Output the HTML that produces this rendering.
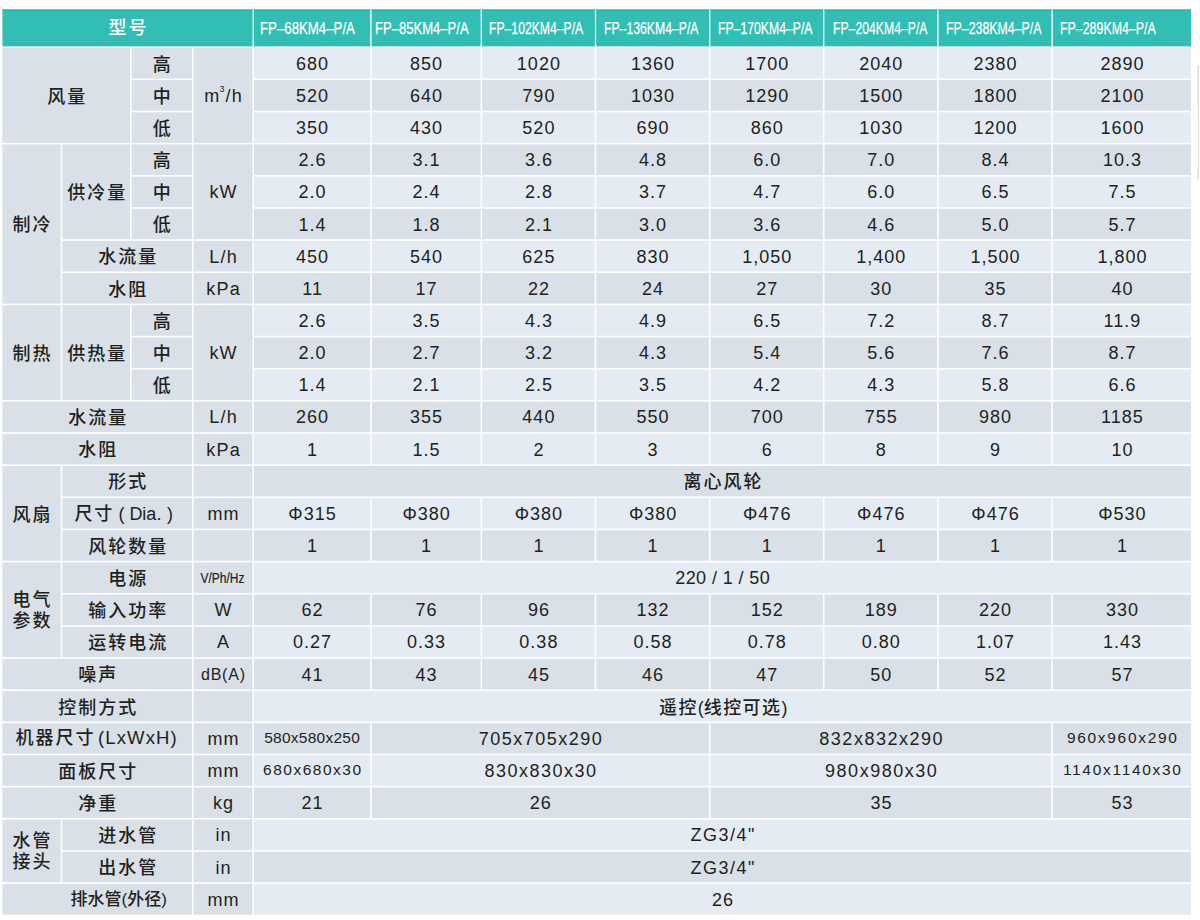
<!DOCTYPE html>
<html lang="zh-CN"><head><meta charset="utf-8"><title>FP-KM4-P/A</title>
<style>
*{margin:0;padding:0;box-sizing:border-box}
html,body{width:1200px;height:920px;background:#fff;overflow:hidden}
body{position:relative;font-family:"Liberation Sans","Noto Sans CJK SC",sans-serif;color:#231f20}
.wrap{position:absolute;left:0;top:0;width:1200px;height:920px;}
.bg{position:absolute;left:0;top:0}
.t{position:absolute;display:flex;align-items:center;justify-content:center;white-space:nowrap;text-align:center}
.t>span{position:relative}
i{font-style:normal;display:inline-block}
.cn{font-family:"Noto Sans CJK SC",sans-serif;font-size:18px;font-weight:500;letter-spacing:2px;line-height:1}
.cn>span{padding-left:2px;top:-0.75px}
.two{line-height:21.3px}
.hcn{font-family:"Noto Sans CJK SC",sans-serif;font-size:18px;font-weight:500;letter-spacing:2px;color:#fff;line-height:1}
.hcn>span{padding-left:2px;top:-1.8px;left:-0.4px}
.hm{position:absolute;color:#fff;font-size:16.8px;line-height:16.8px;height:16.8px;-webkit-text-stroke:0.25px #fff;transform-origin:0 0;white-space:nowrap}
.num{font-size:18px;letter-spacing:1px;line-height:1}
.num>span{padding-left:1px;top:0.5px}
.slash{letter-spacing:0.4px}.slash>span{padding-left:0.4px}
.zg{letter-spacing:1.5px}.zg>span{padding-left:1.5px}
.dim{letter-spacing:1.5px}
.dim>span{padding-left:1.5px}
.sm{font-size:15.5px}
.sm>span{top:-0.5px}
.s580{letter-spacing:0.25px}.s580>span{padding-left:0.25px}
.s680{letter-spacing:1.5px}.s680>span{padding-left:1.5px}
.s960{letter-spacing:1.7px}.s960>span{padding-left:1.7px}
.s1140{letter-spacing:1.7px}.s1140>span{padding-left:1.7px}
.un{font-size:18px;letter-spacing:1.2px;line-height:1}
.un>span{padding-left:1.2px;top:0.5px}
.vph{font-size:15px;line-height:1}
.vph i{transform:scaleX(0.80);-webkit-text-stroke:0.2px #231f20}
.db{font-size:16px;letter-spacing:0.8px}
.db>span{padding-left:0.8px}
.pg{justify-content:flex-start;font-size:17px;letter-spacing:0}
.pg>span{padding-left:0;left:68.2px}
sup{font-size:9px;vertical-align:top;position:relative;top:-2.3px;margin-left:-0.8px;letter-spacing:1px}
.lat{font-family:"Liberation Sans",sans-serif;letter-spacing:1.1px;margin-left:2.5px;font-size:18.5px}
.jq>span{left:-1.5px}
.lat2{font-family:"Liberation Sans","Noto Sans CJK SC",sans-serif;letter-spacing:0}
.dia{font-family:"Liberation Sans",sans-serif;letter-spacing:0}
.lp{font-family:"Liberation Sans",sans-serif;padding:0 5px 0 4px;letter-spacing:0}
.rp{font-family:"Liberation Sans",sans-serif;padding:0 0 0 5.5px;letter-spacing:0}
.diarow>span{left:-4.5px}
.cnp{font-family:"Liberation Sans",sans-serif;letter-spacing:0}
.yk{letter-spacing:1.4px}.yk>span{padding-left:1.4px;top:0.3px}
.phi{font-family:"Liberation Sans",sans-serif}
</style></head>
<body>
<div class="wrap">
<svg class="bg" width="1200" height="920" viewBox="0 0 1200 920"><rect x="2.40" y="9.50" width="250.15" height="36.90" fill="#31bfb5"/><rect x="2.40" y="9.50" width="250.15" height="1.20" fill="#22b3a8"/><rect x="253.85" y="9.50" width="116.40" height="36.90" fill="#31bfb5"/><rect x="253.85" y="9.50" width="116.40" height="1.20" fill="#22b3a8"/><rect x="371.55" y="9.50" width="109.10" height="36.90" fill="#31bfb5"/><rect x="371.55" y="9.50" width="109.10" height="1.20" fill="#22b3a8"/><rect x="481.95" y="9.50" width="112.90" height="36.90" fill="#31bfb5"/><rect x="481.95" y="9.50" width="112.90" height="1.20" fill="#22b3a8"/><rect x="596.15" y="9.50" width="112.90" height="36.90" fill="#31bfb5"/><rect x="596.15" y="9.50" width="112.90" height="1.20" fill="#22b3a8"/><rect x="710.35" y="9.50" width="112.70" height="36.90" fill="#31bfb5"/><rect x="710.35" y="9.50" width="112.70" height="1.20" fill="#22b3a8"/><rect x="824.35" y="9.50" width="112.90" height="36.90" fill="#31bfb5"/><rect x="824.35" y="9.50" width="112.90" height="1.20" fill="#22b3a8"/><rect x="938.55" y="9.50" width="112.90" height="36.90" fill="#31bfb5"/><rect x="938.55" y="9.50" width="112.90" height="1.20" fill="#22b3a8"/><rect x="1052.75" y="9.50" width="138.25" height="36.90" fill="#31bfb5"/><rect x="1052.75" y="9.50" width="138.25" height="1.20" fill="#22b3a8"/><rect x="2.40" y="48.00" width="127.60" height="94.85" fill="#d9e0e7"/><rect x="131.60" y="48.00" width="60.40" height="30.55" fill="#d9e0e7"/><rect x="131.60" y="80.15" width="60.40" height="30.55" fill="#d9e0e7"/><rect x="131.60" y="112.30" width="60.40" height="30.55" fill="#d9e0e7"/><rect x="193.60" y="48.00" width="58.80" height="94.85" fill="#d9e0e7"/><rect x="2.40" y="144.45" width="58.30" height="159.15" fill="#d9e0e7"/><rect x="62.30" y="144.45" width="67.70" height="94.85" fill="#d9e0e7"/><rect x="131.60" y="144.45" width="60.40" height="30.55" fill="#d9e0e7"/><rect x="131.60" y="176.60" width="60.40" height="30.55" fill="#d9e0e7"/><rect x="131.60" y="208.75" width="60.40" height="30.55" fill="#d9e0e7"/><rect x="193.60" y="144.45" width="58.80" height="94.85" fill="#d9e0e7"/><rect x="62.30" y="240.90" width="129.70" height="30.55" fill="#d9e0e7"/><rect x="193.60" y="240.90" width="58.80" height="30.55" fill="#d9e0e7"/><rect x="62.30" y="273.05" width="129.70" height="30.55" fill="#d9e0e7"/><rect x="193.60" y="273.05" width="58.80" height="30.55" fill="#d9e0e7"/><rect x="2.40" y="305.20" width="58.30" height="94.85" fill="#d9e0e7"/><rect x="62.30" y="305.20" width="67.70" height="94.85" fill="#d9e0e7"/><rect x="131.60" y="305.20" width="60.40" height="30.55" fill="#d9e0e7"/><rect x="131.60" y="337.35" width="60.40" height="30.55" fill="#d9e0e7"/><rect x="131.60" y="369.50" width="60.40" height="30.55" fill="#d9e0e7"/><rect x="193.60" y="305.20" width="58.80" height="94.85" fill="#d9e0e7"/><rect x="2.40" y="401.65" width="189.60" height="30.55" fill="#d9e0e7"/><rect x="193.60" y="401.65" width="58.80" height="30.55" fill="#d9e0e7"/><rect x="2.40" y="433.80" width="189.60" height="30.55" fill="#d9e0e7"/><rect x="193.60" y="433.80" width="58.80" height="30.55" fill="#d9e0e7"/><rect x="2.40" y="465.95" width="58.30" height="94.85" fill="#d9e0e7"/><rect x="62.30" y="465.95" width="129.70" height="30.55" fill="#d9e0e7"/><rect x="193.60" y="465.95" width="58.80" height="30.55" fill="#d9e0e7"/><rect x="62.30" y="498.10" width="129.70" height="30.55" fill="#d9e0e7"/><rect x="193.60" y="498.10" width="58.80" height="30.55" fill="#d9e0e7"/><rect x="62.30" y="530.25" width="129.70" height="30.55" fill="#d9e0e7"/><rect x="193.60" y="530.25" width="58.80" height="30.55" fill="#d9e0e7"/><rect x="2.40" y="562.40" width="58.30" height="94.85" fill="#d9e0e7"/><rect x="62.30" y="562.40" width="129.70" height="30.55" fill="#d9e0e7"/><rect x="193.60" y="562.40" width="58.80" height="30.55" fill="#d9e0e7"/><rect x="62.30" y="594.55" width="129.70" height="30.55" fill="#d9e0e7"/><rect x="193.60" y="594.55" width="58.80" height="30.55" fill="#d9e0e7"/><rect x="62.30" y="626.70" width="129.70" height="30.55" fill="#d9e0e7"/><rect x="193.60" y="626.70" width="58.80" height="30.55" fill="#d9e0e7"/><rect x="2.40" y="658.85" width="189.60" height="30.55" fill="#d9e0e7"/><rect x="193.60" y="658.85" width="58.80" height="30.55" fill="#d9e0e7"/><rect x="2.40" y="691.00" width="189.60" height="30.55" fill="#d9e0e7"/><rect x="193.60" y="691.00" width="58.80" height="30.55" fill="#d9e0e7"/><rect x="2.40" y="723.15" width="189.60" height="30.55" fill="#d9e0e7"/><rect x="193.60" y="723.15" width="58.80" height="30.55" fill="#d9e0e7"/><rect x="2.40" y="755.30" width="189.60" height="30.55" fill="#d9e0e7"/><rect x="193.60" y="755.30" width="58.80" height="30.55" fill="#d9e0e7"/><rect x="2.40" y="787.45" width="189.60" height="30.55" fill="#d9e0e7"/><rect x="193.60" y="787.45" width="58.80" height="30.55" fill="#d9e0e7"/><rect x="2.40" y="819.60" width="58.30" height="62.70" fill="#d9e0e7"/><rect x="62.30" y="819.60" width="129.70" height="30.55" fill="#d9e0e7"/><rect x="193.60" y="819.60" width="58.80" height="30.55" fill="#d9e0e7"/><rect x="62.30" y="851.75" width="129.70" height="30.55" fill="#d9e0e7"/><rect x="193.60" y="851.75" width="58.80" height="30.55" fill="#d9e0e7"/><rect x="2.40" y="883.90" width="189.60" height="30.70" fill="#d9e0e7"/><rect x="193.60" y="883.90" width="58.80" height="30.70" fill="#d9e0e7"/><rect x="254.00" y="48.00" width="116.10" height="30.55" fill="#e5ebf2"/><rect x="371.70" y="48.00" width="108.80" height="30.55" fill="#e5ebf2"/><rect x="482.10" y="48.00" width="112.60" height="30.55" fill="#e5ebf2"/><rect x="596.30" y="48.00" width="112.60" height="30.55" fill="#e5ebf2"/><rect x="710.50" y="48.00" width="112.40" height="30.55" fill="#e5ebf2"/><rect x="824.50" y="48.00" width="112.60" height="30.55" fill="#e5ebf2"/><rect x="938.70" y="48.00" width="112.60" height="30.55" fill="#e5ebf2"/><rect x="1052.90" y="48.00" width="138.10" height="30.55" fill="#e5ebf2"/><rect x="254.00" y="80.15" width="116.10" height="30.55" fill="#d9e0e7"/><rect x="371.70" y="80.15" width="108.80" height="30.55" fill="#d9e0e7"/><rect x="482.10" y="80.15" width="112.60" height="30.55" fill="#d9e0e7"/><rect x="596.30" y="80.15" width="112.60" height="30.55" fill="#d9e0e7"/><rect x="710.50" y="80.15" width="112.40" height="30.55" fill="#d9e0e7"/><rect x="824.50" y="80.15" width="112.60" height="30.55" fill="#d9e0e7"/><rect x="938.70" y="80.15" width="112.60" height="30.55" fill="#d9e0e7"/><rect x="1052.90" y="80.15" width="138.10" height="30.55" fill="#d9e0e7"/><rect x="254.00" y="112.30" width="116.10" height="30.55" fill="#e5ebf2"/><rect x="371.70" y="112.30" width="108.80" height="30.55" fill="#e5ebf2"/><rect x="482.10" y="112.30" width="112.60" height="30.55" fill="#e5ebf2"/><rect x="596.30" y="112.30" width="112.60" height="30.55" fill="#e5ebf2"/><rect x="710.50" y="112.30" width="112.40" height="30.55" fill="#e5ebf2"/><rect x="824.50" y="112.30" width="112.60" height="30.55" fill="#e5ebf2"/><rect x="938.70" y="112.30" width="112.60" height="30.55" fill="#e5ebf2"/><rect x="1052.90" y="112.30" width="138.10" height="30.55" fill="#e5ebf2"/><rect x="254.00" y="144.45" width="116.10" height="30.55" fill="#d9e0e7"/><rect x="371.70" y="144.45" width="108.80" height="30.55" fill="#d9e0e7"/><rect x="482.10" y="144.45" width="112.60" height="30.55" fill="#d9e0e7"/><rect x="596.30" y="144.45" width="112.60" height="30.55" fill="#d9e0e7"/><rect x="710.50" y="144.45" width="112.40" height="30.55" fill="#d9e0e7"/><rect x="824.50" y="144.45" width="112.60" height="30.55" fill="#d9e0e7"/><rect x="938.70" y="144.45" width="112.60" height="30.55" fill="#d9e0e7"/><rect x="1052.90" y="144.45" width="138.10" height="30.55" fill="#d9e0e7"/><rect x="254.00" y="176.60" width="116.10" height="30.55" fill="#e5ebf2"/><rect x="371.70" y="176.60" width="108.80" height="30.55" fill="#e5ebf2"/><rect x="482.10" y="176.60" width="112.60" height="30.55" fill="#e5ebf2"/><rect x="596.30" y="176.60" width="112.60" height="30.55" fill="#e5ebf2"/><rect x="710.50" y="176.60" width="112.40" height="30.55" fill="#e5ebf2"/><rect x="824.50" y="176.60" width="112.60" height="30.55" fill="#e5ebf2"/><rect x="938.70" y="176.60" width="112.60" height="30.55" fill="#e5ebf2"/><rect x="1052.90" y="176.60" width="138.10" height="30.55" fill="#e5ebf2"/><rect x="254.00" y="208.75" width="116.10" height="30.55" fill="#d9e0e7"/><rect x="371.70" y="208.75" width="108.80" height="30.55" fill="#d9e0e7"/><rect x="482.10" y="208.75" width="112.60" height="30.55" fill="#d9e0e7"/><rect x="596.30" y="208.75" width="112.60" height="30.55" fill="#d9e0e7"/><rect x="710.50" y="208.75" width="112.40" height="30.55" fill="#d9e0e7"/><rect x="824.50" y="208.75" width="112.60" height="30.55" fill="#d9e0e7"/><rect x="938.70" y="208.75" width="112.60" height="30.55" fill="#d9e0e7"/><rect x="1052.90" y="208.75" width="138.10" height="30.55" fill="#d9e0e7"/><rect x="254.00" y="240.90" width="116.10" height="30.55" fill="#e5ebf2"/><rect x="371.70" y="240.90" width="108.80" height="30.55" fill="#e5ebf2"/><rect x="482.10" y="240.90" width="112.60" height="30.55" fill="#e5ebf2"/><rect x="596.30" y="240.90" width="112.60" height="30.55" fill="#e5ebf2"/><rect x="710.50" y="240.90" width="112.40" height="30.55" fill="#e5ebf2"/><rect x="824.50" y="240.90" width="112.60" height="30.55" fill="#e5ebf2"/><rect x="938.70" y="240.90" width="112.60" height="30.55" fill="#e5ebf2"/><rect x="1052.90" y="240.90" width="138.10" height="30.55" fill="#e5ebf2"/><rect x="254.00" y="273.05" width="116.10" height="30.55" fill="#d9e0e7"/><rect x="371.70" y="273.05" width="108.80" height="30.55" fill="#d9e0e7"/><rect x="482.10" y="273.05" width="112.60" height="30.55" fill="#d9e0e7"/><rect x="596.30" y="273.05" width="112.60" height="30.55" fill="#d9e0e7"/><rect x="710.50" y="273.05" width="112.40" height="30.55" fill="#d9e0e7"/><rect x="824.50" y="273.05" width="112.60" height="30.55" fill="#d9e0e7"/><rect x="938.70" y="273.05" width="112.60" height="30.55" fill="#d9e0e7"/><rect x="1052.90" y="273.05" width="138.10" height="30.55" fill="#d9e0e7"/><rect x="254.00" y="305.20" width="116.10" height="30.55" fill="#e5ebf2"/><rect x="371.70" y="305.20" width="108.80" height="30.55" fill="#e5ebf2"/><rect x="482.10" y="305.20" width="112.60" height="30.55" fill="#e5ebf2"/><rect x="596.30" y="305.20" width="112.60" height="30.55" fill="#e5ebf2"/><rect x="710.50" y="305.20" width="112.40" height="30.55" fill="#e5ebf2"/><rect x="824.50" y="305.20" width="112.60" height="30.55" fill="#e5ebf2"/><rect x="938.70" y="305.20" width="112.60" height="30.55" fill="#e5ebf2"/><rect x="1052.90" y="305.20" width="138.10" height="30.55" fill="#e5ebf2"/><rect x="254.00" y="337.35" width="116.10" height="30.55" fill="#d9e0e7"/><rect x="371.70" y="337.35" width="108.80" height="30.55" fill="#d9e0e7"/><rect x="482.10" y="337.35" width="112.60" height="30.55" fill="#d9e0e7"/><rect x="596.30" y="337.35" width="112.60" height="30.55" fill="#d9e0e7"/><rect x="710.50" y="337.35" width="112.40" height="30.55" fill="#d9e0e7"/><rect x="824.50" y="337.35" width="112.60" height="30.55" fill="#d9e0e7"/><rect x="938.70" y="337.35" width="112.60" height="30.55" fill="#d9e0e7"/><rect x="1052.90" y="337.35" width="138.10" height="30.55" fill="#d9e0e7"/><rect x="254.00" y="369.50" width="116.10" height="30.55" fill="#e5ebf2"/><rect x="371.70" y="369.50" width="108.80" height="30.55" fill="#e5ebf2"/><rect x="482.10" y="369.50" width="112.60" height="30.55" fill="#e5ebf2"/><rect x="596.30" y="369.50" width="112.60" height="30.55" fill="#e5ebf2"/><rect x="710.50" y="369.50" width="112.40" height="30.55" fill="#e5ebf2"/><rect x="824.50" y="369.50" width="112.60" height="30.55" fill="#e5ebf2"/><rect x="938.70" y="369.50" width="112.60" height="30.55" fill="#e5ebf2"/><rect x="1052.90" y="369.50" width="138.10" height="30.55" fill="#e5ebf2"/><rect x="254.00" y="401.65" width="116.10" height="30.55" fill="#d9e0e7"/><rect x="371.70" y="401.65" width="108.80" height="30.55" fill="#d9e0e7"/><rect x="482.10" y="401.65" width="112.60" height="30.55" fill="#d9e0e7"/><rect x="596.30" y="401.65" width="112.60" height="30.55" fill="#d9e0e7"/><rect x="710.50" y="401.65" width="112.40" height="30.55" fill="#d9e0e7"/><rect x="824.50" y="401.65" width="112.60" height="30.55" fill="#d9e0e7"/><rect x="938.70" y="401.65" width="112.60" height="30.55" fill="#d9e0e7"/><rect x="1052.90" y="401.65" width="138.10" height="30.55" fill="#d9e0e7"/><rect x="254.00" y="433.80" width="116.10" height="30.55" fill="#e5ebf2"/><rect x="371.70" y="433.80" width="108.80" height="30.55" fill="#e5ebf2"/><rect x="482.10" y="433.80" width="112.60" height="30.55" fill="#e5ebf2"/><rect x="596.30" y="433.80" width="112.60" height="30.55" fill="#e5ebf2"/><rect x="710.50" y="433.80" width="112.40" height="30.55" fill="#e5ebf2"/><rect x="824.50" y="433.80" width="112.60" height="30.55" fill="#e5ebf2"/><rect x="938.70" y="433.80" width="112.60" height="30.55" fill="#e5ebf2"/><rect x="1052.90" y="433.80" width="138.10" height="30.55" fill="#e5ebf2"/><rect x="254.00" y="498.10" width="116.10" height="30.55" fill="#e5ebf2"/><rect x="371.70" y="498.10" width="108.80" height="30.55" fill="#e5ebf2"/><rect x="482.10" y="498.10" width="112.60" height="30.55" fill="#e5ebf2"/><rect x="596.30" y="498.10" width="112.60" height="30.55" fill="#e5ebf2"/><rect x="710.50" y="498.10" width="112.40" height="30.55" fill="#e5ebf2"/><rect x="824.50" y="498.10" width="112.60" height="30.55" fill="#e5ebf2"/><rect x="938.70" y="498.10" width="112.60" height="30.55" fill="#e5ebf2"/><rect x="1052.90" y="498.10" width="138.10" height="30.55" fill="#e5ebf2"/><rect x="254.00" y="530.25" width="116.10" height="30.55" fill="#d9e0e7"/><rect x="371.70" y="530.25" width="108.80" height="30.55" fill="#d9e0e7"/><rect x="482.10" y="530.25" width="112.60" height="30.55" fill="#d9e0e7"/><rect x="596.30" y="530.25" width="112.60" height="30.55" fill="#d9e0e7"/><rect x="710.50" y="530.25" width="112.40" height="30.55" fill="#d9e0e7"/><rect x="824.50" y="530.25" width="112.60" height="30.55" fill="#d9e0e7"/><rect x="938.70" y="530.25" width="112.60" height="30.55" fill="#d9e0e7"/><rect x="1052.90" y="530.25" width="138.10" height="30.55" fill="#d9e0e7"/><rect x="254.00" y="594.55" width="116.10" height="30.55" fill="#d9e0e7"/><rect x="371.70" y="594.55" width="108.80" height="30.55" fill="#d9e0e7"/><rect x="482.10" y="594.55" width="112.60" height="30.55" fill="#d9e0e7"/><rect x="596.30" y="594.55" width="112.60" height="30.55" fill="#d9e0e7"/><rect x="710.50" y="594.55" width="112.40" height="30.55" fill="#d9e0e7"/><rect x="824.50" y="594.55" width="112.60" height="30.55" fill="#d9e0e7"/><rect x="938.70" y="594.55" width="112.60" height="30.55" fill="#d9e0e7"/><rect x="1052.90" y="594.55" width="138.10" height="30.55" fill="#d9e0e7"/><rect x="254.00" y="626.70" width="116.10" height="30.55" fill="#e5ebf2"/><rect x="371.70" y="626.70" width="108.80" height="30.55" fill="#e5ebf2"/><rect x="482.10" y="626.70" width="112.60" height="30.55" fill="#e5ebf2"/><rect x="596.30" y="626.70" width="112.60" height="30.55" fill="#e5ebf2"/><rect x="710.50" y="626.70" width="112.40" height="30.55" fill="#e5ebf2"/><rect x="824.50" y="626.70" width="112.60" height="30.55" fill="#e5ebf2"/><rect x="938.70" y="626.70" width="112.60" height="30.55" fill="#e5ebf2"/><rect x="1052.90" y="626.70" width="138.10" height="30.55" fill="#e5ebf2"/><rect x="254.00" y="658.85" width="116.10" height="30.55" fill="#d9e0e7"/><rect x="371.70" y="658.85" width="108.80" height="30.55" fill="#d9e0e7"/><rect x="482.10" y="658.85" width="112.60" height="30.55" fill="#d9e0e7"/><rect x="596.30" y="658.85" width="112.60" height="30.55" fill="#d9e0e7"/><rect x="710.50" y="658.85" width="112.40" height="30.55" fill="#d9e0e7"/><rect x="824.50" y="658.85" width="112.60" height="30.55" fill="#d9e0e7"/><rect x="938.70" y="658.85" width="112.60" height="30.55" fill="#d9e0e7"/><rect x="1052.90" y="658.85" width="138.10" height="30.55" fill="#d9e0e7"/><rect x="254.00" y="465.95" width="937.00" height="30.55" fill="#d9e0e7"/><rect x="254.00" y="562.40" width="937.00" height="30.55" fill="#e5ebf2"/><rect x="254.00" y="691.00" width="937.00" height="30.55" fill="#e5ebf2"/><rect x="254.00" y="723.15" width="116.10" height="30.55" fill="#d9e0e7"/><rect x="371.70" y="723.15" width="337.20" height="30.55" fill="#d9e0e7"/><rect x="710.50" y="723.15" width="340.80" height="30.55" fill="#d9e0e7"/><rect x="1052.90" y="723.15" width="138.10" height="30.55" fill="#d9e0e7"/><rect x="254.00" y="755.30" width="116.10" height="30.55" fill="#e5ebf2"/><rect x="371.70" y="755.30" width="337.20" height="30.55" fill="#e5ebf2"/><rect x="710.50" y="755.30" width="340.80" height="30.55" fill="#e5ebf2"/><rect x="1052.90" y="755.30" width="138.10" height="30.55" fill="#e5ebf2"/><rect x="254.00" y="787.45" width="116.10" height="30.55" fill="#d9e0e7"/><rect x="371.70" y="787.45" width="337.20" height="30.55" fill="#d9e0e7"/><rect x="710.50" y="787.45" width="340.80" height="30.55" fill="#d9e0e7"/><rect x="1052.90" y="787.45" width="138.10" height="30.55" fill="#d9e0e7"/><rect x="254.00" y="819.60" width="937.00" height="30.55" fill="#e5ebf2"/><rect x="254.00" y="851.75" width="937.00" height="30.55" fill="#d9e0e7"/><rect x="254.00" y="883.90" width="937.00" height="30.70" fill="#e5ebf2"/><rect x="1198" y="66" width="1" height="113.6" fill="#dedede"/><rect x="1197" y="66" width="2" height="1" fill="#dadada"/><rect x="1197" y="67" width="1" height="42" fill="#eeeeee"/><rect x="1197" y="117" width="1.5" height="1" fill="#e0e0e0"/><rect x="1197" y="168" width="1.5" height="1" fill="#e0e0e0"/><rect x="1197" y="169" width="1" height="10.6" fill="#eeeeee"/></svg>
<div class="t hcn" style="left:2.40px;top:9.50px;width:250.80px;height:36.90px"><span>型号</span></div>
<div class="t cn" style="left:2.40px;top:48.00px;width:127.60px;height:94.85px"><span>风量</span></div>
<div class="t cn" style="left:131.60px;top:48.00px;width:60.40px;height:30.55px"><span>高</span></div>
<div class="t cn" style="left:131.60px;top:80.15px;width:60.40px;height:30.55px"><span>中</span></div>
<div class="t cn" style="left:131.60px;top:112.30px;width:60.40px;height:30.55px"><span>低</span></div>
<div class="t un" style="left:193.60px;top:48.00px;width:58.80px;height:94.85px"><span>m<sup>3</sup>/h</span></div>
<div class="t cn" style="left:2.40px;top:144.45px;width:58.30px;height:159.15px"><span>制冷</span></div>
<div class="t cn" style="left:62.30px;top:144.45px;width:67.70px;height:94.85px"><span>供冷量</span></div>
<div class="t cn" style="left:131.60px;top:144.45px;width:60.40px;height:30.55px"><span>高</span></div>
<div class="t cn" style="left:131.60px;top:176.60px;width:60.40px;height:30.55px"><span>中</span></div>
<div class="t cn" style="left:131.60px;top:208.75px;width:60.40px;height:30.55px"><span>低</span></div>
<div class="t un" style="left:193.60px;top:144.45px;width:58.80px;height:94.85px"><span>kW</span></div>
<div class="t cn" style="left:62.30px;top:240.90px;width:129.70px;height:30.55px"><span>水流量</span></div>
<div class="t un" style="left:193.60px;top:240.90px;width:58.80px;height:30.55px"><span>L/h</span></div>
<div class="t cn" style="left:62.30px;top:273.05px;width:129.70px;height:30.55px"><span>水阻</span></div>
<div class="t un" style="left:193.60px;top:273.05px;width:58.80px;height:30.55px"><span>kPa</span></div>
<div class="t cn" style="left:2.40px;top:305.20px;width:58.30px;height:94.85px"><span>制热</span></div>
<div class="t cn" style="left:62.30px;top:305.20px;width:67.70px;height:94.85px"><span>供热量</span></div>
<div class="t cn" style="left:131.60px;top:305.20px;width:60.40px;height:30.55px"><span>高</span></div>
<div class="t cn" style="left:131.60px;top:337.35px;width:60.40px;height:30.55px"><span>中</span></div>
<div class="t cn" style="left:131.60px;top:369.50px;width:60.40px;height:30.55px"><span>低</span></div>
<div class="t un" style="left:193.60px;top:305.20px;width:58.80px;height:94.85px"><span>kW</span></div>
<div class="t cn" style="left:2.40px;top:401.65px;width:189.60px;height:30.55px"><span>水流量</span></div>
<div class="t un" style="left:193.60px;top:401.65px;width:58.80px;height:30.55px"><span>L/h</span></div>
<div class="t cn" style="left:2.40px;top:433.80px;width:189.60px;height:30.55px"><span>水阻</span></div>
<div class="t un" style="left:193.60px;top:433.80px;width:58.80px;height:30.55px"><span>kPa</span></div>
<div class="t cn" style="left:2.40px;top:465.95px;width:58.30px;height:94.85px"><span>风扇</span></div>
<div class="t cn" style="left:62.30px;top:465.95px;width:129.70px;height:30.55px"><span>形式</span></div>
<div class="t cn diarow" style="left:62.30px;top:498.10px;width:129.70px;height:30.55px"><span>尺寸<span class="lp">(</span><span class="dia">Dia.</span><span class="rp">)</span></span></div>
<div class="t un" style="left:193.60px;top:498.10px;width:58.80px;height:30.55px"><span>mm</span></div>
<div class="t cn" style="left:62.30px;top:530.25px;width:129.70px;height:30.55px"><span>风轮数量</span></div>
<div class="t cn two" style="left:2.40px;top:562.40px;width:58.30px;height:94.85px"><span>电气<br>参数</span></div>
<div class="t cn" style="left:62.30px;top:562.40px;width:129.70px;height:30.55px"><span>电源</span></div>
<div class="t vph" style="left:193.60px;top:562.40px;width:58.80px;height:30.55px"><span><i>V/Ph/Hz</i></span></div>
<div class="t cn" style="left:62.30px;top:594.55px;width:129.70px;height:30.55px"><span>输入功率</span></div>
<div class="t un" style="left:193.60px;top:594.55px;width:58.80px;height:30.55px"><span>W</span></div>
<div class="t cn" style="left:62.30px;top:626.70px;width:129.70px;height:30.55px"><span>运转电流</span></div>
<div class="t un" style="left:193.60px;top:626.70px;width:58.80px;height:30.55px"><span>A</span></div>
<div class="t cn" style="left:2.40px;top:658.85px;width:189.60px;height:30.55px"><span>噪声</span></div>
<div class="t un db" style="left:193.60px;top:658.85px;width:58.80px;height:30.55px"><span>dB(A)</span></div>
<div class="t cn" style="left:2.40px;top:691.00px;width:189.60px;height:30.55px"><span>控制方式</span></div>
<div class="t cn jq" style="left:2.40px;top:723.15px;width:189.60px;height:30.55px"><span>机器尺寸<span class="lat">(LxWxH)</span></span></div>
<div class="t un" style="left:193.60px;top:723.15px;width:58.80px;height:30.55px"><span>mm</span></div>
<div class="t cn" style="left:2.40px;top:755.30px;width:189.60px;height:30.55px"><span>面板尺寸</span></div>
<div class="t un" style="left:193.60px;top:755.30px;width:58.80px;height:30.55px"><span>mm</span></div>
<div class="t cn" style="left:2.40px;top:787.45px;width:189.60px;height:30.55px"><span>净重</span></div>
<div class="t un" style="left:193.60px;top:787.45px;width:58.80px;height:30.55px"><span>kg</span></div>
<div class="t cn two" style="left:2.40px;top:819.60px;width:58.30px;height:62.70px"><span>水管<br>接头</span></div>
<div class="t cn" style="left:62.30px;top:819.60px;width:129.70px;height:30.55px"><span>进水管</span></div>
<div class="t un" style="left:193.60px;top:819.60px;width:58.80px;height:30.55px"><span>in</span></div>
<div class="t cn" style="left:62.30px;top:851.75px;width:129.70px;height:30.55px"><span>出水管</span></div>
<div class="t un" style="left:193.60px;top:851.75px;width:58.80px;height:30.55px"><span>in</span></div>
<div class="t cn pg" style="left:2.40px;top:883.90px;width:189.60px;height:30.70px"><span>排水管<span class="lat2">(</span>外径<span class="lat2">)</span></span></div>
<div class="t un" style="left:193.60px;top:883.90px;width:58.80px;height:30.70px"><span>mm</span></div>
<div class="t num" style="left:254.00px;top:48.00px;width:116.10px;height:30.55px"><span>680</span></div>
<div class="t num" style="left:371.70px;top:48.00px;width:108.80px;height:30.55px"><span>850</span></div>
<div class="t num" style="left:482.10px;top:48.00px;width:112.60px;height:30.55px"><span>1020</span></div>
<div class="t num" style="left:596.30px;top:48.00px;width:112.60px;height:30.55px"><span>1360</span></div>
<div class="t num" style="left:710.50px;top:48.00px;width:112.40px;height:30.55px"><span>1700</span></div>
<div class="t num" style="left:824.50px;top:48.00px;width:112.60px;height:30.55px"><span>2040</span></div>
<div class="t num" style="left:938.70px;top:48.00px;width:112.60px;height:30.55px"><span>2380</span></div>
<div class="t num" style="left:1052.90px;top:48.00px;width:138.10px;height:30.55px"><span>2890</span></div>
<div class="t num" style="left:254.00px;top:80.15px;width:116.10px;height:30.55px"><span>520</span></div>
<div class="t num" style="left:371.70px;top:80.15px;width:108.80px;height:30.55px"><span>640</span></div>
<div class="t num" style="left:482.10px;top:80.15px;width:112.60px;height:30.55px"><span>790</span></div>
<div class="t num" style="left:596.30px;top:80.15px;width:112.60px;height:30.55px"><span>1030</span></div>
<div class="t num" style="left:710.50px;top:80.15px;width:112.40px;height:30.55px"><span>1290</span></div>
<div class="t num" style="left:824.50px;top:80.15px;width:112.60px;height:30.55px"><span>1500</span></div>
<div class="t num" style="left:938.70px;top:80.15px;width:112.60px;height:30.55px"><span>1800</span></div>
<div class="t num" style="left:1052.90px;top:80.15px;width:138.10px;height:30.55px"><span>2100</span></div>
<div class="t num" style="left:254.00px;top:112.30px;width:116.10px;height:30.55px"><span>350</span></div>
<div class="t num" style="left:371.70px;top:112.30px;width:108.80px;height:30.55px"><span>430</span></div>
<div class="t num" style="left:482.10px;top:112.30px;width:112.60px;height:30.55px"><span>520</span></div>
<div class="t num" style="left:596.30px;top:112.30px;width:112.60px;height:30.55px"><span>690</span></div>
<div class="t num" style="left:710.50px;top:112.30px;width:112.40px;height:30.55px"><span>860</span></div>
<div class="t num" style="left:824.50px;top:112.30px;width:112.60px;height:30.55px"><span>1030</span></div>
<div class="t num" style="left:938.70px;top:112.30px;width:112.60px;height:30.55px"><span>1200</span></div>
<div class="t num" style="left:1052.90px;top:112.30px;width:138.10px;height:30.55px"><span>1600</span></div>
<div class="t num" style="left:254.00px;top:144.45px;width:116.10px;height:30.55px"><span>2.6</span></div>
<div class="t num" style="left:371.70px;top:144.45px;width:108.80px;height:30.55px"><span>3.1</span></div>
<div class="t num" style="left:482.10px;top:144.45px;width:112.60px;height:30.55px"><span>3.6</span></div>
<div class="t num" style="left:596.30px;top:144.45px;width:112.60px;height:30.55px"><span>4.8</span></div>
<div class="t num" style="left:710.50px;top:144.45px;width:112.40px;height:30.55px"><span>6.0</span></div>
<div class="t num" style="left:824.50px;top:144.45px;width:112.60px;height:30.55px"><span>7.0</span></div>
<div class="t num" style="left:938.70px;top:144.45px;width:112.60px;height:30.55px"><span>8.4</span></div>
<div class="t num" style="left:1052.90px;top:144.45px;width:138.10px;height:30.55px"><span>10.3</span></div>
<div class="t num" style="left:254.00px;top:176.60px;width:116.10px;height:30.55px"><span>2.0</span></div>
<div class="t num" style="left:371.70px;top:176.60px;width:108.80px;height:30.55px"><span>2.4</span></div>
<div class="t num" style="left:482.10px;top:176.60px;width:112.60px;height:30.55px"><span>2.8</span></div>
<div class="t num" style="left:596.30px;top:176.60px;width:112.60px;height:30.55px"><span>3.7</span></div>
<div class="t num" style="left:710.50px;top:176.60px;width:112.40px;height:30.55px"><span>4.7</span></div>
<div class="t num" style="left:824.50px;top:176.60px;width:112.60px;height:30.55px"><span>6.0</span></div>
<div class="t num" style="left:938.70px;top:176.60px;width:112.60px;height:30.55px"><span>6.5</span></div>
<div class="t num" style="left:1052.90px;top:176.60px;width:138.10px;height:30.55px"><span>7.5</span></div>
<div class="t num" style="left:254.00px;top:208.75px;width:116.10px;height:30.55px"><span>1.4</span></div>
<div class="t num" style="left:371.70px;top:208.75px;width:108.80px;height:30.55px"><span>1.8</span></div>
<div class="t num" style="left:482.10px;top:208.75px;width:112.60px;height:30.55px"><span>2.1</span></div>
<div class="t num" style="left:596.30px;top:208.75px;width:112.60px;height:30.55px"><span>3.0</span></div>
<div class="t num" style="left:710.50px;top:208.75px;width:112.40px;height:30.55px"><span>3.6</span></div>
<div class="t num" style="left:824.50px;top:208.75px;width:112.60px;height:30.55px"><span>4.6</span></div>
<div class="t num" style="left:938.70px;top:208.75px;width:112.60px;height:30.55px"><span>5.0</span></div>
<div class="t num" style="left:1052.90px;top:208.75px;width:138.10px;height:30.55px"><span>5.7</span></div>
<div class="t num" style="left:254.00px;top:240.90px;width:116.10px;height:30.55px"><span>450</span></div>
<div class="t num" style="left:371.70px;top:240.90px;width:108.80px;height:30.55px"><span>540</span></div>
<div class="t num" style="left:482.10px;top:240.90px;width:112.60px;height:30.55px"><span>625</span></div>
<div class="t num" style="left:596.30px;top:240.90px;width:112.60px;height:30.55px"><span>830</span></div>
<div class="t num" style="left:710.50px;top:240.90px;width:112.40px;height:30.55px"><span>1,050</span></div>
<div class="t num" style="left:824.50px;top:240.90px;width:112.60px;height:30.55px"><span>1,400</span></div>
<div class="t num" style="left:938.70px;top:240.90px;width:112.60px;height:30.55px"><span>1,500</span></div>
<div class="t num" style="left:1052.90px;top:240.90px;width:138.10px;height:30.55px"><span>1,800</span></div>
<div class="t num" style="left:254.00px;top:273.05px;width:116.10px;height:30.55px"><span>11</span></div>
<div class="t num" style="left:371.70px;top:273.05px;width:108.80px;height:30.55px"><span>17</span></div>
<div class="t num" style="left:482.10px;top:273.05px;width:112.60px;height:30.55px"><span>22</span></div>
<div class="t num" style="left:596.30px;top:273.05px;width:112.60px;height:30.55px"><span>24</span></div>
<div class="t num" style="left:710.50px;top:273.05px;width:112.40px;height:30.55px"><span>27</span></div>
<div class="t num" style="left:824.50px;top:273.05px;width:112.60px;height:30.55px"><span>30</span></div>
<div class="t num" style="left:938.70px;top:273.05px;width:112.60px;height:30.55px"><span>35</span></div>
<div class="t num" style="left:1052.90px;top:273.05px;width:138.10px;height:30.55px"><span>40</span></div>
<div class="t num" style="left:254.00px;top:305.20px;width:116.10px;height:30.55px"><span>2.6</span></div>
<div class="t num" style="left:371.70px;top:305.20px;width:108.80px;height:30.55px"><span>3.5</span></div>
<div class="t num" style="left:482.10px;top:305.20px;width:112.60px;height:30.55px"><span>4.3</span></div>
<div class="t num" style="left:596.30px;top:305.20px;width:112.60px;height:30.55px"><span>4.9</span></div>
<div class="t num" style="left:710.50px;top:305.20px;width:112.40px;height:30.55px"><span>6.5</span></div>
<div class="t num" style="left:824.50px;top:305.20px;width:112.60px;height:30.55px"><span>7.2</span></div>
<div class="t num" style="left:938.70px;top:305.20px;width:112.60px;height:30.55px"><span>8.7</span></div>
<div class="t num" style="left:1052.90px;top:305.20px;width:138.10px;height:30.55px"><span>11.9</span></div>
<div class="t num" style="left:254.00px;top:337.35px;width:116.10px;height:30.55px"><span>2.0</span></div>
<div class="t num" style="left:371.70px;top:337.35px;width:108.80px;height:30.55px"><span>2.7</span></div>
<div class="t num" style="left:482.10px;top:337.35px;width:112.60px;height:30.55px"><span>3.2</span></div>
<div class="t num" style="left:596.30px;top:337.35px;width:112.60px;height:30.55px"><span>4.3</span></div>
<div class="t num" style="left:710.50px;top:337.35px;width:112.40px;height:30.55px"><span>5.4</span></div>
<div class="t num" style="left:824.50px;top:337.35px;width:112.60px;height:30.55px"><span>5.6</span></div>
<div class="t num" style="left:938.70px;top:337.35px;width:112.60px;height:30.55px"><span>7.6</span></div>
<div class="t num" style="left:1052.90px;top:337.35px;width:138.10px;height:30.55px"><span>8.7</span></div>
<div class="t num" style="left:254.00px;top:369.50px;width:116.10px;height:30.55px"><span>1.4</span></div>
<div class="t num" style="left:371.70px;top:369.50px;width:108.80px;height:30.55px"><span>2.1</span></div>
<div class="t num" style="left:482.10px;top:369.50px;width:112.60px;height:30.55px"><span>2.5</span></div>
<div class="t num" style="left:596.30px;top:369.50px;width:112.60px;height:30.55px"><span>3.5</span></div>
<div class="t num" style="left:710.50px;top:369.50px;width:112.40px;height:30.55px"><span>4.2</span></div>
<div class="t num" style="left:824.50px;top:369.50px;width:112.60px;height:30.55px"><span>4.3</span></div>
<div class="t num" style="left:938.70px;top:369.50px;width:112.60px;height:30.55px"><span>5.8</span></div>
<div class="t num" style="left:1052.90px;top:369.50px;width:138.10px;height:30.55px"><span>6.6</span></div>
<div class="t num" style="left:254.00px;top:401.65px;width:116.10px;height:30.55px"><span>260</span></div>
<div class="t num" style="left:371.70px;top:401.65px;width:108.80px;height:30.55px"><span>355</span></div>
<div class="t num" style="left:482.10px;top:401.65px;width:112.60px;height:30.55px"><span>440</span></div>
<div class="t num" style="left:596.30px;top:401.65px;width:112.60px;height:30.55px"><span>550</span></div>
<div class="t num" style="left:710.50px;top:401.65px;width:112.40px;height:30.55px"><span>700</span></div>
<div class="t num" style="left:824.50px;top:401.65px;width:112.60px;height:30.55px"><span>755</span></div>
<div class="t num" style="left:938.70px;top:401.65px;width:112.60px;height:30.55px"><span>980</span></div>
<div class="t num" style="left:1052.90px;top:401.65px;width:138.10px;height:30.55px"><span>1185</span></div>
<div class="t num" style="left:254.00px;top:433.80px;width:116.10px;height:30.55px"><span>1</span></div>
<div class="t num" style="left:371.70px;top:433.80px;width:108.80px;height:30.55px"><span>1.5</span></div>
<div class="t num" style="left:482.10px;top:433.80px;width:112.60px;height:30.55px"><span>2</span></div>
<div class="t num" style="left:596.30px;top:433.80px;width:112.60px;height:30.55px"><span>3</span></div>
<div class="t num" style="left:710.50px;top:433.80px;width:112.40px;height:30.55px"><span>6</span></div>
<div class="t num" style="left:824.50px;top:433.80px;width:112.60px;height:30.55px"><span>8</span></div>
<div class="t num" style="left:938.70px;top:433.80px;width:112.60px;height:30.55px"><span>9</span></div>
<div class="t num" style="left:1052.90px;top:433.80px;width:138.10px;height:30.55px"><span>10</span></div>
<div class="t num" style="left:254.00px;top:498.10px;width:116.10px;height:30.55px"><span><span class="phi">Φ</span>315</span></div>
<div class="t num" style="left:371.70px;top:498.10px;width:108.80px;height:30.55px"><span><span class="phi">Φ</span>380</span></div>
<div class="t num" style="left:482.10px;top:498.10px;width:112.60px;height:30.55px"><span><span class="phi">Φ</span>380</span></div>
<div class="t num" style="left:596.30px;top:498.10px;width:112.60px;height:30.55px"><span><span class="phi">Φ</span>380</span></div>
<div class="t num" style="left:710.50px;top:498.10px;width:112.40px;height:30.55px"><span><span class="phi">Φ</span>476</span></div>
<div class="t num" style="left:824.50px;top:498.10px;width:112.60px;height:30.55px"><span><span class="phi">Φ</span>476</span></div>
<div class="t num" style="left:938.70px;top:498.10px;width:112.60px;height:30.55px"><span><span class="phi">Φ</span>476</span></div>
<div class="t num" style="left:1052.90px;top:498.10px;width:138.10px;height:30.55px"><span><span class="phi">Φ</span>530</span></div>
<div class="t num" style="left:254.00px;top:530.25px;width:116.10px;height:30.55px"><span>1</span></div>
<div class="t num" style="left:371.70px;top:530.25px;width:108.80px;height:30.55px"><span>1</span></div>
<div class="t num" style="left:482.10px;top:530.25px;width:112.60px;height:30.55px"><span>1</span></div>
<div class="t num" style="left:596.30px;top:530.25px;width:112.60px;height:30.55px"><span>1</span></div>
<div class="t num" style="left:710.50px;top:530.25px;width:112.40px;height:30.55px"><span>1</span></div>
<div class="t num" style="left:824.50px;top:530.25px;width:112.60px;height:30.55px"><span>1</span></div>
<div class="t num" style="left:938.70px;top:530.25px;width:112.60px;height:30.55px"><span>1</span></div>
<div class="t num" style="left:1052.90px;top:530.25px;width:138.10px;height:30.55px"><span>1</span></div>
<div class="t num" style="left:254.00px;top:594.55px;width:116.10px;height:30.55px"><span>62</span></div>
<div class="t num" style="left:371.70px;top:594.55px;width:108.80px;height:30.55px"><span>76</span></div>
<div class="t num" style="left:482.10px;top:594.55px;width:112.60px;height:30.55px"><span>96</span></div>
<div class="t num" style="left:596.30px;top:594.55px;width:112.60px;height:30.55px"><span>132</span></div>
<div class="t num" style="left:710.50px;top:594.55px;width:112.40px;height:30.55px"><span>152</span></div>
<div class="t num" style="left:824.50px;top:594.55px;width:112.60px;height:30.55px"><span>189</span></div>
<div class="t num" style="left:938.70px;top:594.55px;width:112.60px;height:30.55px"><span>220</span></div>
<div class="t num" style="left:1052.90px;top:594.55px;width:138.10px;height:30.55px"><span>330</span></div>
<div class="t num" style="left:254.00px;top:626.70px;width:116.10px;height:30.55px"><span>0.27</span></div>
<div class="t num" style="left:371.70px;top:626.70px;width:108.80px;height:30.55px"><span>0.33</span></div>
<div class="t num" style="left:482.10px;top:626.70px;width:112.60px;height:30.55px"><span>0.38</span></div>
<div class="t num" style="left:596.30px;top:626.70px;width:112.60px;height:30.55px"><span>0.58</span></div>
<div class="t num" style="left:710.50px;top:626.70px;width:112.40px;height:30.55px"><span>0.78</span></div>
<div class="t num" style="left:824.50px;top:626.70px;width:112.60px;height:30.55px"><span>0.80</span></div>
<div class="t num" style="left:938.70px;top:626.70px;width:112.60px;height:30.55px"><span>1.07</span></div>
<div class="t num" style="left:1052.90px;top:626.70px;width:138.10px;height:30.55px"><span>1.43</span></div>
<div class="t num" style="left:254.00px;top:658.85px;width:116.10px;height:30.55px"><span>41</span></div>
<div class="t num" style="left:371.70px;top:658.85px;width:108.80px;height:30.55px"><span>43</span></div>
<div class="t num" style="left:482.10px;top:658.85px;width:112.60px;height:30.55px"><span>45</span></div>
<div class="t num" style="left:596.30px;top:658.85px;width:112.60px;height:30.55px"><span>46</span></div>
<div class="t num" style="left:710.50px;top:658.85px;width:112.40px;height:30.55px"><span>47</span></div>
<div class="t num" style="left:824.50px;top:658.85px;width:112.60px;height:30.55px"><span>50</span></div>
<div class="t num" style="left:938.70px;top:658.85px;width:112.60px;height:30.55px"><span>52</span></div>
<div class="t num" style="left:1052.90px;top:658.85px;width:138.10px;height:30.55px"><span>57</span></div>
<div class="t cn" style="left:254.00px;top:465.95px;width:937.00px;height:30.55px"><span>离心风轮</span></div>
<div class="t num slash" style="left:254.00px;top:562.40px;width:937.00px;height:30.55px"><span>220 / 1 / 50</span></div>
<div class="t cn yk" style="left:254.00px;top:691.00px;width:937.00px;height:30.55px"><span>遥控<span class="cnp">(</span>线控可选<span class="cnp">)</span></span></div>
<div class="t num sm s580" style="left:254.00px;top:723.15px;width:116.10px;height:30.55px"><span>580x580x250</span></div>
<div class="t num dim" style="left:371.70px;top:723.15px;width:337.20px;height:30.55px"><span>705x705x290</span></div>
<div class="t num dim" style="left:710.50px;top:723.15px;width:340.80px;height:30.55px"><span>832x832x290</span></div>
<div class="t num sm s960" style="left:1052.90px;top:723.15px;width:138.10px;height:30.55px"><span>960x960x290</span></div>
<div class="t num sm s680" style="left:254.00px;top:755.30px;width:116.10px;height:30.55px"><span>680x680x30</span></div>
<div class="t num dim" style="left:371.70px;top:755.30px;width:337.20px;height:30.55px"><span>830x830x30</span></div>
<div class="t num dim" style="left:710.50px;top:755.30px;width:340.80px;height:30.55px"><span>980x980x30</span></div>
<div class="t num sm s1140" style="left:1052.90px;top:755.30px;width:138.10px;height:30.55px"><span>1140x1140x30</span></div>
<div class="t num" style="left:254.00px;top:787.45px;width:116.10px;height:30.55px"><span>21</span></div>
<div class="t num" style="left:371.70px;top:787.45px;width:337.20px;height:30.55px"><span>26</span></div>
<div class="t num" style="left:710.50px;top:787.45px;width:340.80px;height:30.55px"><span>35</span></div>
<div class="t num" style="left:1052.90px;top:787.45px;width:138.10px;height:30.55px"><span>53</span></div>
<div class="t num zg" style="left:254.00px;top:819.60px;width:937.00px;height:30.55px"><span>ZG3/4"</span></div>
<div class="t num zg" style="left:254.00px;top:851.75px;width:937.00px;height:30.55px"><span>ZG3/4"</span></div>
<div class="t num" style="left:254.00px;top:883.90px;width:937.00px;height:30.70px"><span>26</span></div>
<div class="hm" style="left:260.41px;top:21.20px;transform:scaleX(0.7889)">FP–68KM4–P/A</div>
<div class="hm" style="left:374.73px;top:21.20px;transform:scaleX(0.7780)">FP–85KM4–P/A</div>
<div class="hm" style="left:489.20px;top:21.20px;transform:scaleX(0.7267)">FP–102KM4–P/A</div>
<div class="hm" style="left:603.50px;top:21.20px;transform:scaleX(0.7283)">FP–136KM4–P/A</div>
<div class="hm" style="left:718.00px;top:21.20px;transform:scaleX(0.7283)">FP–170KM4–P/A</div>
<div class="hm" style="left:832.50px;top:21.20px;transform:scaleX(0.7283)">FP–204KM4–P/A</div>
<div class="hm" style="left:945.99px;top:21.20px;transform:scaleX(0.7361)">FP–238KM4–P/A</div>
<div class="hm" style="left:1060.28px;top:21.20px;transform:scaleX(0.7384)">FP–289KM4–P/A</div>
</div>
</body></html>
